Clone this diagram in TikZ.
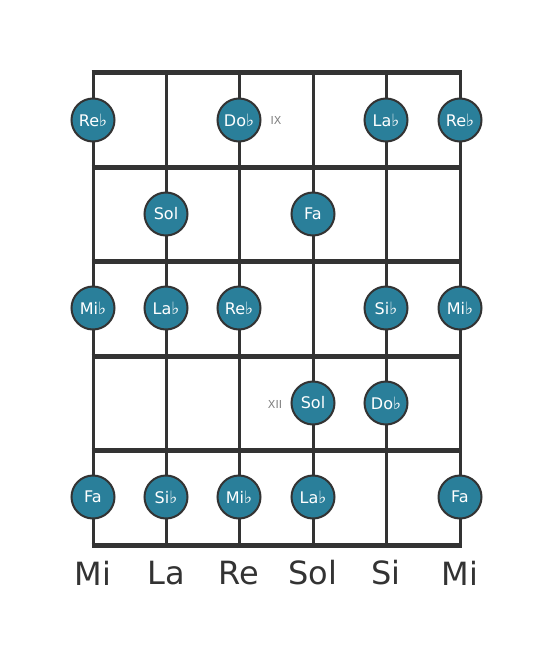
\documentclass[tikz,border=0pt]{standalone}
\usepackage{fontspec}
\setmainfont{DejaVu Sans}
\definecolor{notefill}{HTML}{2A7F9A}
\definecolor{wire}{HTML}{333333}
\newcommand{\fl}{{\fontsize{17}{17}\selectfont ♭}}
\tikzset{
  note/.style={circle, draw=wire, line width=2pt, fill=notefill, minimum size=43pt,
    inner sep=0pt, text=white, font=\fontsize{16}{16}\selectfont},
  fretnum/.style={text=gray, font=\fontsize{11}{11}\selectfont},
  strname/.style={text=wire, font=\fontsize{32}{32}\selectfont}
}
\begin{document}
\begin{tikzpicture}[x=1pt, y=-1pt]
\useasboundingbox (0,0) rectangle (553,656);
% strings
\foreach \x in {93, 166, 239, 313, 386, 460}{
\draw[wire, line width=3pt] (\x, 72) -- (\x, 545);
}
% frets
\foreach \y in {72, 167, 261, 356, 450, 545}{
\draw[wire, line width=5pt] (91.5, \y) -- (461.5, \y);
}
% notes
\foreach \x/\y/\t [count=\i] in {93/120/Re\fl, 239/120/Do\fl, 386/120/La\fl, 460/120/Re\fl,
  166/214/Sol, 313/214/Fa,
  93/308/Mi\fl, 166/308/La\fl, 239/308/Re\fl, 386/308/Si\fl, 460/308/Mi\fl,
  313/403/Sol, 386/403/Do\fl,
  93/497/Fa, 166/497/Si\fl, 239/497/Mi\fl, 313/497/La\fl, 460/497/Fa}{
\node[note] (n\i) at (\x, \y) {\t};
}
\node[fretnum] (ix) at (276, 120) {IX};
\node[fretnum] (xii) at (275, 404) {XII};
% string names
\foreach \x/\t [count=\i] in {93/Mi, 166/La, 239/Re, 313/Sol, 386/Si, 460/Mi}{
\node[strname] (s\i) at (\x, 573) {\t};
}
\end{tikzpicture}
\end{document}
